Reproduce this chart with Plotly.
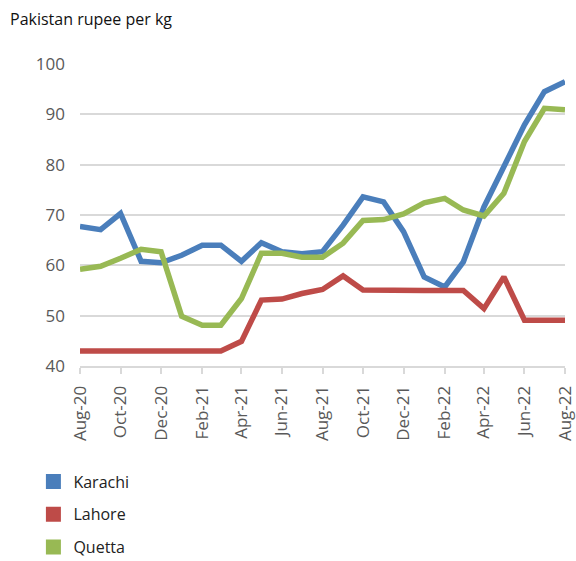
import plotly.graph_objects as go

months = ["2020-08-01", "2020-09-01", "2020-10-01", "2020-11-01", "2020-12-01",
          "2021-01-01", "2021-02-01", "2021-03-01", "2021-04-01", "2021-05-01",
          "2021-06-01", "2021-07-01", "2021-08-01", "2021-09-01", "2021-10-01",
          "2021-11-01", "2021-12-01", "2022-01-01", "2022-02-01", "2022-03-01",
          "2022-04-01", "2022-05-01", "2022-06-01", "2022-07-01", "2022-08-01"]

karachi = [67.7, 67.1, 70.3, 60.8, 60.5, 62.0, 64.0, 64.0, 60.8, 64.5,
           62.7, 62.3, 62.7, 68.0, 73.6, 72.6, 66.7, 57.7, 55.7, 60.7,
           71.6, 79.6, 87.9, 94.5, 96.5]
lahore = [43.0, 43.0, 43.0, 43.0, 43.0, 43.0, 43.0, 43.0, 44.9, 53.1,
          53.3, 54.4, 55.2, 57.9, 55.1, 55.0, 55.0, 55.0, 55.0, 55.0,
          51.4, 57.7, 49.1, 49.1, 49.1]
quetta = [59.2, 59.8, 61.4, 63.2, 62.7, 49.9, 48.1, 48.1, 53.4, 62.4,
          62.4, 61.6, 61.6, 64.4, 68.9, 69.1, 70.2, 72.4, 73.3, 71.0,
          69.8, 74.3, 84.6, 91.2, 90.9]

series = [("Karachi", karachi, "#4A7EBB"),
          ("Lahore", lahore, "#BE4B48"),
          ("Quetta", quetta, "#98B954")]

fig = go.Figure()
for name, vals, color in series:
    fig.add_trace(go.Scatter(x=months, y=vals, mode="lines", name=name,
                             line=dict(color=color, width=5.5),
                             showlegend=False))
for name, vals, color in series:
    fig.add_trace(go.Scatter(x=[None], y=[None], mode="markers", name=name,
                             marker=dict(symbol="square", size=15, color=color),
                             legendgroup=name, showlegend=True))

fig.update_layout(
    width=576, height=561,
    margin=dict(l=80, r=11, t=64, b=195, autoexpand=False),
    plot_bgcolor="white", paper_bgcolor="white",
    font=dict(family="Open Sans", size=14, color="#222222"),
    legend=dict(xref="container", yref="container",
                x=0.058, y=0.172, xanchor="left", yanchor="top",
                orientation="v", tracegroupgap=9,
                font=dict(size=16, color="#222222")),
)
fig.add_annotation(text="Pakistan rupee per kg", xref="paper", yref="paper",
                   x=-0.148, y=1.0, xanchor="left", yanchor="bottom",
                   yshift=32, showarrow=False,
                   font=dict(size=16, color="#111111"))

fig.update_yaxes(range=[40, 100], dtick=10, showgrid=True, gridcolor="#D9D9D9",
                 gridwidth=2, zeroline=False, showline=False,
                 tickfont=dict(size=17, color="#595959"), ticks="",
                 ticklabelstandoff=14)
fig.update_xaxes(range=["2020-08-01", "2022-08-01"], dtick="M2",
                 tick0="2020-08-01", tickformat="%b-%y", tickangle=-90,
                 showgrid=False, showline=True, linecolor="#D9D9D9", linewidth=2,
                 ticks="outside", ticklen=6, tickcolor="#D9D9D9", tickwidth=2,
                 ticklabelstandoff=5,
                 tickfont=dict(size=17, color="#595959"))

fig.write_html("out.html", config={"displayModeBar": False},
               post_script="document.body.style.margin='0';document.body.style.overflow='hidden';")
